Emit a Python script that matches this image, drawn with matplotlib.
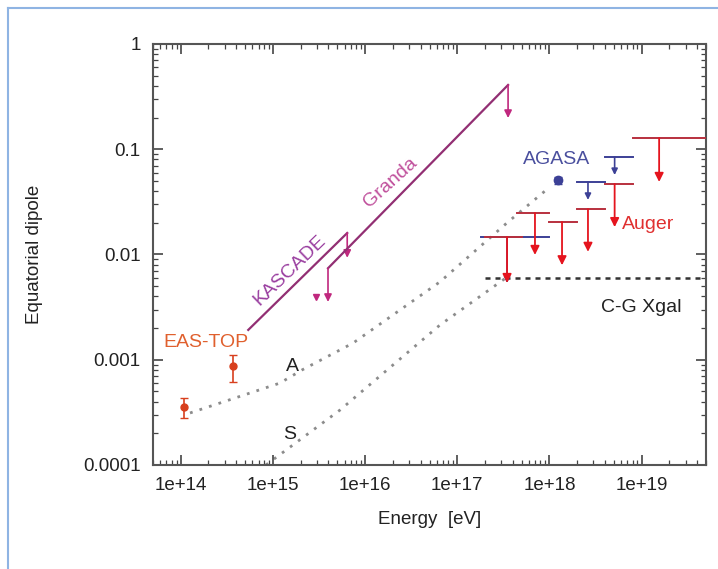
import numpy as np
import matplotlib
matplotlib.use("Agg")
import matplotlib.pyplot as plt
from matplotlib.lines import Line2D
from matplotlib.ticker import FixedLocator, LogLocator, NullFormatter

plt.rcParams['font.family'] = ['Liberation Sans', 'DejaVu Sans']

# ---- EAS-TOP measurements ----
eastop_E = [1.08e14, 3.7e14]
eastop_d = [3.56e-4, 8.7e-4]
eastop_lo = [2.8e-4, 6.15e-4]
eastop_hi = [4.33e-4, 1.11e-3]

# ---- KASCADE upper limit band ----
kascade_E = [5.4e14, 6.4e15]
kascade_d = [1.92e-3, 1.6e-2]
kascade_tip = [9.3e-3]

# ---- KASCADE-Grande upper limit band ----
granda_E = [3.96e15, 3.56e17]
granda_d = [7.4e-3, 0.408]
granda_tip = [3.54e-3, 0.198]
granda_marker_E = [2.93e15]
granda_marker_d = [3.95e-3]

# ---- Auger upper limits (bin edges in eV, arrow position, limit, arrow tip) ----
auger_lo = [2.0e17, 4.45e17, 1.0e18, 2.0e18, 4.0e18, 8.0e18]
auger_hi = [5.0e17, 1.0e18, 2.0e18, 4.0e18, 8.0e18, 5.0e19]
auger_Ec = [3.47e17, 6.97e17, 1.37e18, 2.62e18, 5.1e18, 1.55e19]
auger_ul = [0.0147, 0.0248, 0.0204, 0.027, 0.0468, 0.128]
auger_tip = [5.36e-3, 9.9e-3, 7.9e-3, 1.06e-2, 1.82e-2, 4.89e-2]

# ---- AGASA ----
agasa_lo = [1.8e17, 2.0e18, 4.0e18]
agasa_hi = [1.0e18, 4.0e18, 8.0e18]
agasa_Ec = [3.47e17, 2.62e18, 5.1e18]
agasa_ul = [0.0147, 0.0489, 0.0844]
agasa_tip = [5.36e-3, 0.033, 0.0569]
agasa_pt_E = [1.24e18]
agasa_pt_d = [0.051]
agasa_pt_lo = [0.047]
agasa_pt_hi = [0.054]

# ---- Galactic model predictions ----
modelA_E = [1.26e14, 1.19e15, 2.07e15, 7.4e15, 6.5e16, 3.47e17, 1.01e18]
modelA_d = [3.12e-4, 6.0e-4, 8.0e-4, 1.44e-3, 5.5e-3, 0.02, 0.0438]
modelS_E = [8.4e14, 5.35e15, 6.5e16, 3.47e17]
modelS_d = [1.0e-4, 3.33e-4, 2.14e-3, 6.1e-3]

# ---- Compton-Getting extragalactic expectation ----
cg_E = [2.0e17, 5.0e19]
cg_d = [6.0e-3, 6.0e-3]

x_range = [5e13, 5e19]
y_range = [1e-4, 1]
x_ticks = [1e14, 1e15, 1e16, 1e17, 1e18, 1e19]
x_ticklabels = ['1e+14', '1e+15', '1e+16', '1e+17', '1e+18', '1e+19']
y_ticks = [1e-4, 1e-3, 1e-2, 1e-1, 1]
y_ticklabels = ['0.0001', '0.001', '0.01', '0.1', '1']

purple_line = '#922f73'
purple_head = '#c0287e'
red_bar = '#b8303e'
red_head = '#e5141e'
blue = '#3c4096'

fig = plt.figure(figsize=(7.18, 5.69), dpi=100)
ax = fig.add_axes([0.2131, 0.1828, 0.7702, 0.7399])
ax.set_xscale('log')
ax.set_yscale('log')
ax.set_xlim(*x_range)
ax.set_ylim(*y_range)


def down_arrow(x, y0, y1, color, lw=1.2, scale=11, z=3):
    ax.annotate('', xy=(x, y1), xytext=(x, y0),
                arrowprops=dict(arrowstyle='-|>', color=color, lw=lw,
                                mutation_scale=scale, shrinkA=0, shrinkB=0),
                zorder=z)


# model curves
ax.plot(modelA_E, modelA_d, color='#8c8c8c', lw=2.0, ls=(0, (1, 2.6)), zorder=1)
ax.plot(modelS_E, modelS_d, color='#8c8c8c', lw=2.0, ls=(0, (1, 2.6)), zorder=1)
ax.plot(cg_E, cg_d, color='#333333', lw=1.8, ls=(0, (2, 2)), zorder=1)

# EAS-TOP
yerr = [np.array(eastop_d) - np.array(eastop_lo), np.array(eastop_hi) - np.array(eastop_d)]
ax.errorbar(eastop_E, eastop_d, yerr=yerr, fmt='o', color='#d8401e', ms=5,
            capsize=3, elinewidth=1.2, zorder=4)

# KASCADE
ax.plot(kascade_E, kascade_d, color=purple_line, lw=1.6, zorder=3)
down_arrow(kascade_E[1], kascade_d[1], kascade_tip[0], purple_head, lw=1.2)

# KASCADE-Grande
ax.plot(granda_E, granda_d, color=purple_line, lw=1.6, zorder=3)
down_arrow(granda_E[0], granda_d[0], granda_tip[0], purple_head, lw=1.2)
down_arrow(granda_E[1], granda_d[1], granda_tip[1], purple_head, lw=1.2)
ax.plot(granda_marker_E, granda_marker_d, 'v', color=purple_head, ms=5, zorder=3)

# AGASA
for lo, hi, ec, ul, tip in zip(agasa_lo, agasa_hi, agasa_Ec, agasa_ul, agasa_tip):
    ax.plot([lo, hi], [ul, ul], color=blue, lw=1.4, zorder=2)
    down_arrow(ec, ul, tip, blue, lw=1.2, scale=9, z=2)
ax.errorbar(agasa_pt_E, agasa_pt_d,
            yerr=[[agasa_pt_d[0] - agasa_pt_lo[0]], [agasa_pt_hi[0] - agasa_pt_d[0]]],
            fmt='o', color=blue, ms=6, capsize=3, elinewidth=1.0, zorder=4)

# Auger
for lo, hi, ec, ul, tip in zip(auger_lo, auger_hi, auger_Ec, auger_ul, auger_tip):
    ax.plot([lo, hi], [ul, ul], color=red_bar, lw=1.4, zorder=3)
    down_arrow(ec, ul, tip, red_head, lw=1.3, scale=13)

# labels on the plot
txt = dict(transform=ax.transAxes, ha='center', va='center', fontsize=14)
ax.text(0.0958, 0.292, 'EAS-TOP', color='#e0602e', **txt)
ax.text(0.2477, 0.4632, 'KASCADE', color='#9a3fa0', rotation=44, **txt)
ax.text(0.4286, 0.6698, 'Granda', color='#c0509c', rotation=42, **txt)
ax.text(0.7306, 0.7245, 'AGASA', color='#4a4f9e', **txt)
ax.text(0.8951, 0.5701, 'Auger', color='#e03030', **txt)
ax.text(0.8825, 0.3729, 'C-G Xgal', color='#222222', **txt)
ax.text(0.2514, 0.2328, 'A', color='#222222', **txt)
ax.text(0.2477, 0.0713, 'S', color='#222222', **txt)

# axes styling
ax.xaxis.set_major_locator(FixedLocator(x_ticks))
ax.set_xticklabels(x_ticklabels)
ax.xaxis.set_minor_locator(LogLocator(base=10, subs=np.arange(2, 10), numticks=20))
ax.xaxis.set_minor_formatter(NullFormatter())
ax.yaxis.set_major_locator(FixedLocator(y_ticks))
ax.set_yticklabels(y_ticklabels)
ax.yaxis.set_minor_locator(LogLocator(base=10, subs=np.arange(2, 10), numticks=20))
ax.yaxis.set_minor_formatter(NullFormatter())
ax.tick_params(which='both', direction='in', top=True, right=True,
               color='#444444', labelsize=13.5, labelcolor='#222222')
ax.tick_params(which='major', length=7, width=1.2, pad=9)
ax.tick_params(which='minor', length=3.5, width=0.9)
for sp in ax.spines.values():
    sp.set_color('#555555')
    sp.set_linewidth(1.5)

ax.set_xlabel('Energy  [eV]', fontsize=13.5, color='#222222')
ax.xaxis.label.set_va('center')
ax.xaxis.set_label_coords(0.5, -0.1306)
ax.set_ylabel('Equatorial dipole', fontsize=13.5, color='#222222')
ax.yaxis.label.set_va('center')
ax.yaxis.set_label_coords(-0.2134, 0.5)

# page frame
frame_c = '#8fb4e3'
fig.add_artist(Line2D([8 / 718, 1], [1 - 8 / 569, 1 - 8 / 569], color=frame_c, lw=1.5,
                      transform=fig.transFigure))
fig.add_artist(Line2D([8 / 718, 8 / 718], [0, 1 - 8 / 569], color=frame_c, lw=1.5,
                      transform=fig.transFigure))

fig.savefig('out.png', dpi=100)
